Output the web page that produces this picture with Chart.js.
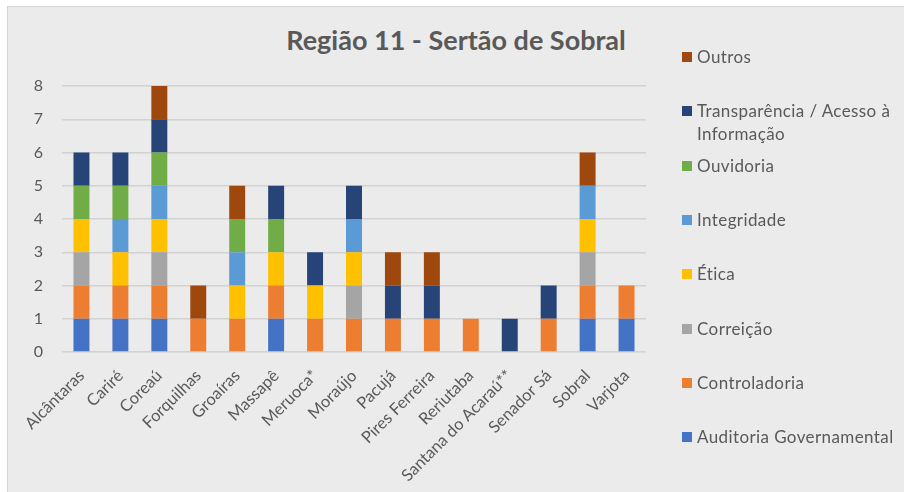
<!DOCTYPE html>
<html>
<head>
<meta charset="utf-8">
<script src="https://cdn.jsdelivr.net/npm/chart.js@4"></script>
<style>
  html, body { margin: 0; padding: 0; background: #ffffff; }
  body { width: 904px; height: 492px; overflow: hidden; position: relative; font-family: Lato, "Open Sans", sans-serif; }
  #frame {
    position: absolute; left: 7px; top: 6px; width: 910px; height: 500px;
    background: #ebebeb; border-left: 1px solid #d4d4d4; border-top: 1px solid #d4d4d4;
  }
  #chartBox { position: absolute; left: 0; top: 0; width: 904px; height: 492px; }
  #title {
    position: absolute; left: 0; top: 23px; width: 912px; text-align: center;
    font-weight: bold; font-size: 27px; color: #595959;
  }
  #legend { position: absolute; left: 682px; top: 0; }
  .item { position: absolute; left: 0; width: 222px; font-size: 17px; letter-spacing: 0.4px; line-height: 23px; color: #595959; padding-left: 15px; }
  .item span.sw { position: absolute; left: 0; top: 7px; width: 10px; height: 10px; }
</style>
</head>
<body>
<div id="frame"></div>
<div id="title">Região 11 - Sertão de Sobral</div>
<div id="chartBox"><canvas id="chart" width="904" height="492"></canvas></div>
<div id="legend"></div>
<script>
const municipios = ["Alcântaras", "Cariré", "Coreaú", "Forquilhas", "Groaíras", "Massapê", "Meruoca*",
  "Moraújo", "Pacujá", "Pires Ferreira", "Reriutaba", "Santana do Acaraú**", "Senador Sá", "Sobral", "Varjota"];

const auditoria     = [1, 1, 1, 0, 0, 1, 0, 0, 0, 0, 0, 0, 0, 1, 1];
const controladoria = [1, 1, 1, 1, 1, 1, 1, 1, 1, 1, 1, 0, 1, 1, 1];
const correicao     = [1, 0, 1, 0, 0, 0, 0, 1, 0, 0, 0, 0, 0, 1, 0];
const etica         = [1, 1, 1, 0, 1, 1, 1, 1, 0, 0, 0, 0, 0, 1, 0];
const integridade   = [0, 1, 1, 0, 1, 0, 0, 1, 0, 0, 0, 0, 0, 1, 0];
const ouvidoria     = [1, 1, 1, 0, 1, 1, 0, 0, 0, 0, 0, 0, 0, 0, 0];
const transparencia = [1, 1, 1, 0, 0, 1, 1, 1, 1, 1, 0, 1, 1, 0, 0];
const outros        = [0, 0, 1, 1, 1, 0, 0, 0, 1, 1, 0, 0, 0, 1, 0];

const yTicks = [0, 1, 2, 3, 4, 5, 6, 7, 8];

const series = [
  { label: "Auditoria Governamental", data: auditoria, color: "#4472C4" },
  { label: "Controladoria", data: controladoria, color: "#ED7D31" },
  { label: "Correição", data: correicao, color: "#A5A5A5" },
  { label: "Ética", data: etica, color: "#FFC000" },
  { label: "Integridade", data: integridade, color: "#5B9BD5" },
  { label: "Ouvidoria", data: ouvidoria, color: "#70AD47" },
  { label: "Transparência / Acesso à Informação", data: transparencia, color: "#264478" },
  { label: "Outros", data: outros, color: "#9E480E" },
];

// legend on the right, listed top-down from the last series
const legendTops = [56, 110, 165, 219, 273, 328, 382, 436];
const legend = document.getElementById("legend");
series.slice().reverse().forEach(function (s, i) {
  const div = document.createElement("div");
  div.className = "item";
  div.style.top = (legendTops[i] - 11) + "px";
  div.innerHTML = '<span class="sw" style="background:' + s.color + '"></span>' +
    s.label.replace(" Informação", "<br>Informação");
  legend.appendChild(div);
});

Chart.defaults.font.family = "Lato, 'Open Sans', sans-serif";
Chart.defaults.color = "#595959";

new Chart(document.getElementById("chart"), {
  type: "bar",
  data: {
    labels: municipios,
    datasets: series.map(function (s) {
      return {
        label: s.label,
        data: s.data,
        backgroundColor: s.color,
        borderWidth: 0,
        barPercentage: 0.41,
        categoryPercentage: 1,
      };
    }),
  },
  options: {
    responsive: false,
    animation: false,
    layout: { padding: { left: 0, right: 258, top: 86, bottom: 0 } },
    plugins: { legend: { display: false }, title: { display: false }, tooltip: { enabled: false } },
    scales: {
      x: {
        stacked: true,
        grid: { display: false },
        border: { display: false },
        ticks: { font: { size: 16.5 }, maxRotation: 45, minRotation: 45, padding: 6, autoSkip: false },
        afterFit: function (scale) { scale.height = 140; },
      },
      y: {
        stacked: true,
        min: 0,
        max: 8,
        afterBuildTicks: function (scale) { scale.ticks = yTicks.map(function (v) { return { value: v }; }); },
        grid: { color: "#d2d2d2", lineWidth: 1.5, drawTicks: false },
        border: { display: false },
        ticks: { font: { size: 16 }, padding: 19 },
        afterFit: function (scale) { scale.width = 62; },
      },
    },
  },
});
</script>
</body>
</html>
